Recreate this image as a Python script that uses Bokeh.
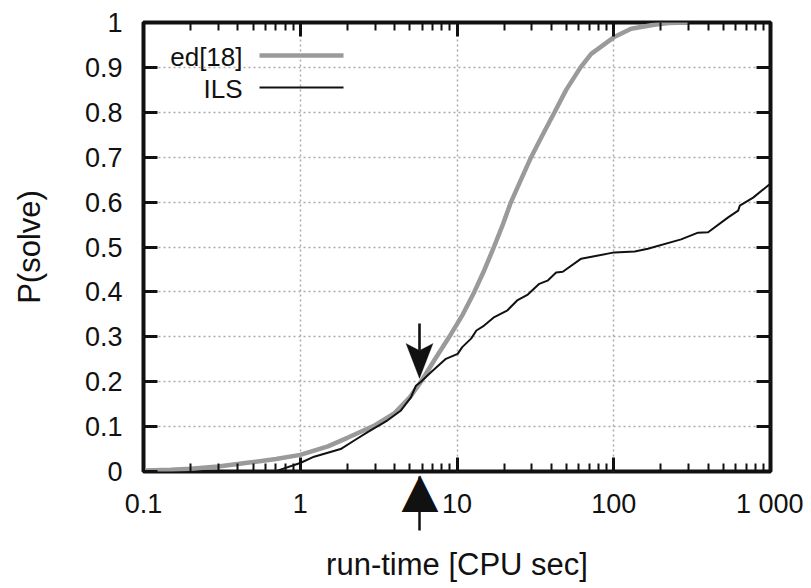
from bokeh.plotting import figure
from bokeh.models import (FixedTicker, LogAxis, LinearAxis, Label, Arrow, PolyAnnotation,
                          Range1d, NumeralTickFormatter)
from bokeh.embed import file_html
from bokeh.resources import INLINE

# ---- data ----
ed_x = [0.1, 0.15, 0.2, 0.3, 0.5, 0.7, 1, 1.5, 2, 3, 4, 5, 5.89, 7.23, 8.93, 10.9, 12.9,
        15.0, 17.2, 19.6, 22.1, 25.6, 29.7, 35.2, 41.9, 49.7, 61.4, 71.8, 100, 129, 181,
        223, 300]
ed_p = [0.002, 0.004, 0.006, 0.011, 0.021, 0.028, 0.037, 0.056, 0.075, 0.103, 0.13, 0.165,
        0.2, 0.25, 0.3, 0.35, 0.4, 0.45, 0.5, 0.55, 0.6, 0.65, 0.7, 0.75, 0.8, 0.85, 0.9,
        0.93, 0.967, 0.986, 0.995, 0.999, 1.0]

ils_x = [0.715, 1.0, 1.225, 1.81, 2.21, 2.69, 3.61, 4.39, 5.08, 5.47, 5.89, 6.82, 8.5,
         10.1, 10.8, 12.3, 13.3, 14.9, 17.3, 21.0, 24.2, 28.3, 33.5, 37.8, 42.9, 47.3,
         62, 101, 136, 165, 269, 345, 400, 537, 622, 637, 775, 966, 1000]
ils_p = [0.002, 0.019, 0.033, 0.05, 0.069, 0.0875, 0.114, 0.136, 0.165, 0.191, 0.2, 0.221,
         0.251, 0.262, 0.277, 0.296, 0.314, 0.325, 0.344, 0.359, 0.381, 0.394, 0.418, 0.425,
         0.443, 0.445, 0.474, 0.488, 0.49, 0.496, 0.517, 0.532, 0.533, 0.566, 0.581, 0.592,
         0.61, 0.637, 0.64]

x_ticks = [0.1, 1, 10, 100, 1000]
x_tick_labels = ["0.1", "1", "10", "100", "1 000"]
x_minor_ticks = [m * d for d in (0.1, 1, 10, 100) for m in range(2, 10)]
y_ticks = [0, 0.1, 0.2, 0.3, 0.4, 0.5, 0.6, 0.7, 0.8, 0.9, 1]

legend_labels = ["ed[18]", "ILS"]
arrow_x = 5.8   # run-time where the two curves cross

FONT = "Liberation Sans"
TXT = "#111111"
GRAY = "#9a9a9a"
INK = "#111111"

p = figure(width=803, height=588, x_axis_type="log",
           x_range=Range1d(0.1, 1000), y_range=Range1d(0, 1),
           output_backend="svg", toolbar_location=None,
           min_border_left=143, min_border_right=33, min_border_top=22, min_border_bottom=117)
p.background_fill_color = "white"
p.border_fill_color = "white"
p.outline_line_color = INK
p.outline_line_width = 4

xt = FixedTicker(ticks=x_ticks, minor_ticks=x_minor_ticks)
yt = FixedTicker(ticks=y_ticks)

def style_axis(ax, show_labels=True):
    ax.axis_line_color = None
    ax.major_tick_in = 14
    ax.major_tick_out = 0
    ax.major_tick_line_width = 3
    ax.major_tick_line_color = INK
    ax.minor_tick_in = 8
    ax.minor_tick_out = 0
    ax.minor_tick_line_width = 2
    ax.minor_tick_line_color = INK
    ax.major_label_text_font = FONT
    ax.major_label_text_font_size = "27px"
    ax.major_label_text_color = TXT
    ax.axis_label_text_font = FONT
    ax.axis_label_text_font_size = "31px"
    ax.axis_label_text_font_style = "normal"
    ax.axis_label_text_color = TXT
    if not show_labels:
        ax.major_label_text_font_size = "1px"
        ax.major_label_text_color = None
        ax.major_label_standoff = 0

# bottom axis: ticks + tick labels (nearest to the frame)
xa = p.xaxis[0]
xa.ticker = xt
xa.major_label_overrides = {t: l for t, l in zip(x_ticks, x_tick_labels)}
style_axis(xa)
xa.major_label_standoff = 17

# second bottom axis: carries the up arrow (tick = shaft, label = head) and the axis title
up = LogAxis(ticker=FixedTicker(ticks=[arrow_x]))
up.axis_line_color = None
up.major_tick_in = 45
up.major_tick_out = 9
up.major_tick_line_width = 2.5
up.major_tick_line_color = INK
up.minor_tick_line_color = None
up.major_label_overrides = {arrow_x: "\u25B2"}
up.major_label_text_font = "DejaVu Sans"
up.major_label_text_font_size = "48px"
up.major_label_text_color = INK
up.major_label_standoff = -70
up.axis_label = "run-time [CPU sec]"
up.axis_label_text_font = FONT
up.axis_label_text_font_size = "31px"
up.axis_label_text_font_style = "normal"
up.axis_label_text_color = TXT
up.axis_label_standoff = 27
p.add_layout(up, "below")

ya = p.yaxis[0]
ya.ticker = yt
ya.formatter = NumeralTickFormatter(format="0.[0]")
style_axis(ya)
ya.minor_tick_line_color = None
ya.major_label_standoff = 21
ya.axis_label = "P(solve)"
ya.axis_label_standoff = 35

top = LogAxis(ticker=xt)
style_axis(top, show_labels=False)
p.add_layout(top, "above")
right = LinearAxis(ticker=yt)
style_axis(right, show_labels=False)
right.minor_tick_line_color = None
p.add_layout(right, "right")

p.xgrid.ticker = xt
p.ygrid.ticker = yt
for g in (p.xgrid[0], p.ygrid[0]):
    g.grid_line_color = "#aaaaaa"
    g.grid_line_dash = "2 3"
    g.grid_line_width = 1.5

p.line(ed_x, ed_p, line_color=GRAY, line_width=4.5)
p.line(ils_x, ils_p, line_color=INK, line_width=2)

# legend (gnuplot style: text, then line sample) -- screen units inside the frame
leg_y = [416, 384]
leg_style = [(GRAY, 4.5), (INK, 2)]
for lab, yy, (col, w) in zip(legend_labels, leg_y, leg_style):
    p.add_layout(Label(x=99, y=yy - 1, x_units="screen", y_units="screen", text=lab,
                       text_align="right", text_baseline="middle", text_font=FONT,
                       text_font_size="26px", text_color=TXT))
    p.add_layout(Arrow(x_start=116, y_start=yy, x_end=200, y_end=yy,
                       start_units="screen", end_units="screen", end=None,
                       line_color=col, line_width=w))

# down arrow above the crossing (screen units relative to the frame)
ax_px, tip, base, notch, tail, hw, sw = 276, 93, 128, 121, 148, 13.5, 1.3
p.add_layout(PolyAnnotation(xs=[ax_px, ax_px + hw, ax_px, ax_px - hw],
                            ys=[tip, base, notch, base],
                            xs_units="screen", ys_units="screen",
                            fill_color=INK, fill_alpha=1, line_color=INK, line_width=1))
p.add_layout(PolyAnnotation(xs=[ax_px - sw, ax_px + sw, ax_px + sw, ax_px - sw],
                            ys=[notch, notch, tail, tail],
                            xs_units="screen", ys_units="screen",
                            fill_color=INK, fill_alpha=1, line_color=None))

open("out.html", "w").write(file_html(p, INLINE))
